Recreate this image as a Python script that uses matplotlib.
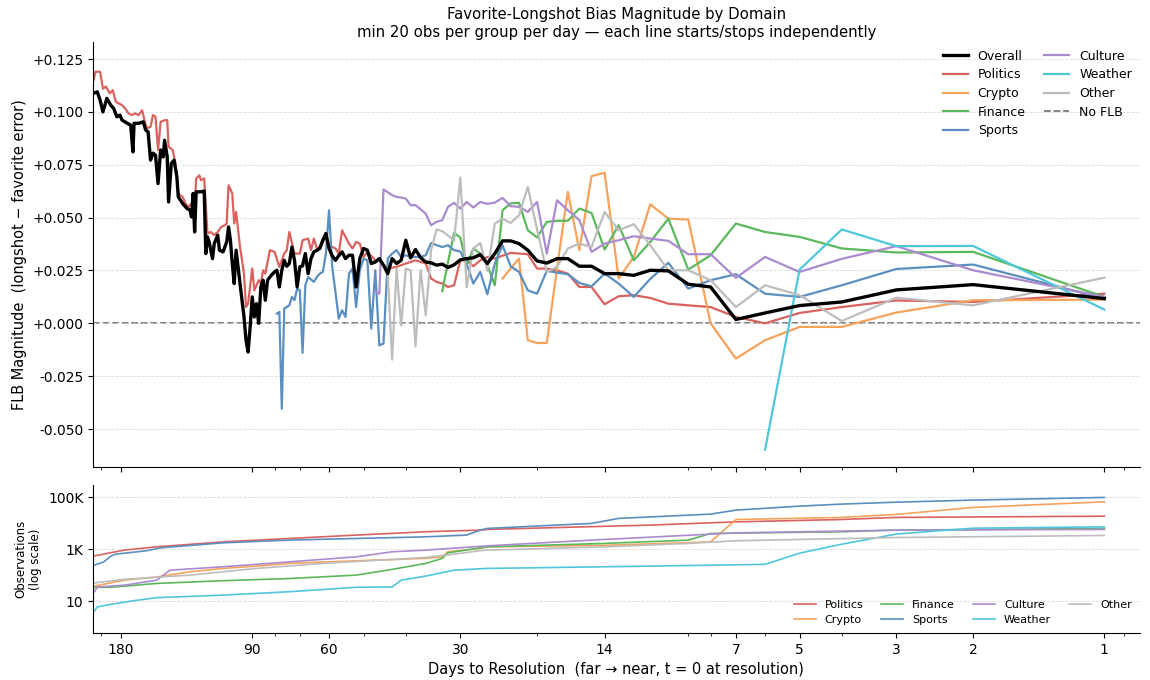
import matplotlib
matplotlib.use("Agg")
import matplotlib.pyplot as plt
from matplotlib.ticker import FixedLocator, FuncFormatter, NullFormatter, NullLocator

# ---- FLB magnitude per domain, by days to resolution ----
overall_days = [207, 204, 201, 198, 194, 190, 187, 184, 181, 179, 174, 171, 169, 168, 164, 160, 158, 156,
                154, 152, 150, 148, 146, 144, 143, 141, 140, 138, 136, 134, 133, 130, 127, 125, 124, 123,
                122, 121, 118, 116, 115, 114, 113, 111, 110, 108, 107, 105, 103, 102, 101, 100, 99, 98,
                97, 96, 94, 93, 92, 91, 90, 89, 88, 87, 86, 85, 84, 83, 82, 81, 80, 79, 78, 77, 76, 75,
                74, 73, 72, 71, 70, 69, 68, 67, 66, 65, 64, 63, 62, 61, 60, 59, 58, 57, 56, 55, 54, 53,
                52, 51, 50, 49, 48, 47, 46, 45, 44, 43, 42, 41, 40, 39, 38, 37, 36, 35, 34, 33, 32, 31,
                30, 29, 28, 27, 26, 25, 24, 23, 22, 21, 20, 19, 18, 17, 16, 15, 14, 13, 12, 11, 10, 9,
                8, 7, 6, 5, 4, 3, 2, 1]
overall_vals = [0.109, 0.1095, 0.1056, 0.100, 0.1064, 0.1032, 0.1016, 0.0977, 0.0985, 0.0961, 0.0946,
                0.0937, 0.0811, 0.0946, 0.0946, 0.0953, 0.0914, 0.0906, 0.0772, 0.0805, 0.0795, 0.0661,
                0.082, 0.0787, 0.0866, 0.0787, 0.0574, 0.0756, 0.0772, 0.0693, 0.0598, 0.0567, 0.0543,
                0.0535, 0.0503, 0.0614, 0.0432, 0.0622, 0.0622, 0.0626, 0.033, 0.0409, 0.0385, 0.0306,
                0.0377, 0.0417, 0.0346, 0.0338, 0.0385, 0.0456, 0.0393, 0.0283, 0.0188, 0.0346, 0.0267,
                0.0188, 0.003, -0.008, -0.0136, -0.0017, 0.0125, 0.003, 0.0093, 0.0, 0.0172, 0.0204,
                0.0109, 0.0204, 0.0219, 0.0232, 0.0243, 0.0251, 0.0172, 0.0251, 0.0298, 0.027, 0.0283,
                0.0361, 0.0298, 0.0172, 0.0267, 0.0272, 0.033, 0.0235, 0.0306, 0.0338, 0.0345, 0.0354,
                0.0393, 0.0425, 0.0354, 0.032, 0.0298, 0.032, 0.0338, 0.0306, 0.0322, 0.0322, 0.0172,
                0.0306, 0.0354, 0.0346, 0.0283, 0.029, 0.0306, 0.0275, 0.0235, 0.0306, 0.0283, 0.0298,
                0.0393, 0.031, 0.0349, 0.0311, 0.029, 0.0286, 0.0275, 0.028, 0.0264, 0.0277, 0.030,
                0.0306, 0.031, 0.0325, 0.0283, 0.033, 0.039, 0.039, 0.0377, 0.0346, 0.0295, 0.0285,
                0.0306, 0.0306, 0.027, 0.027, 0.0235, 0.0235, 0.0227, 0.0251, 0.0248, 0.0185, 0.0172,
                0.0018, 0.0049, 0.0084, 0.0101, 0.0158, 0.0183, 0.0117]

politics_days = [208, 206, 201, 198, 195, 191, 188, 185, 182, 179, 176, 173, 170, 167, 164, 161, 159, 157,
                 154, 152, 150, 148, 146, 143, 141, 140, 137, 135, 133, 130, 128, 126, 124, 122, 121, 119,
                 118, 116, 114, 112, 110, 108, 106, 104, 103, 102, 100, 99, 98, 96, 94, 93, 92, 90, 89,
                 87, 86, 85, 84, 82, 80, 78, 76, 75, 74, 72, 70, 69, 67, 66, 65, 64, 63, 61, 60, 58, 57,
                 56, 54, 53, 52, 51, 50, 49, 47, 46, 45, 44, 42, 40, 38, 36, 35, 34, 33, 32, 31, 30, 29,
                 28, 27, 26, 25, 24, 23, 22, 21, 20, 19, 18, 17, 16, 15, 14, 13, 12, 11, 10, 9, 8, 7, 6,
                 5, 4, 3, 2, 1]
politics_vals = [0.115, 0.119, 0.119, 0.111, 0.112, 0.1088, 0.1103, 0.1048, 0.104, 0.1032, 0.1016, 0.0993,
                 0.0985, 0.0993, 0.0985, 0.1008, 0.0961, 0.0922, 0.093, 0.0985, 0.0977, 0.082, 0.0953,
                 0.0961, 0.0961, 0.0835, 0.082, 0.0756, 0.0614, 0.0598, 0.0567, 0.055, 0.0567, 0.0559,
                 0.0685, 0.070, 0.0677, 0.0685, 0.0425, 0.0432, 0.0417, 0.0432, 0.0456, 0.0464, 0.0472,
                 0.0653, 0.0614, 0.0472, 0.0527, 0.0361, 0.0235, 0.0077, 0.0093, 0.0259, 0.0156, 0.0204,
                 0.0188, 0.0251, 0.0235, 0.0346, 0.0338, 0.0267, 0.033, 0.0346, 0.0432, 0.033, 0.033,
                 0.0393, 0.0401, 0.0346, 0.0401, 0.0354, 0.0361, 0.0409, 0.0369, 0.0354, 0.033, 0.044,
                 0.0377, 0.0354, 0.0385, 0.0377, 0.0314, 0.0338, 0.0298, 0.0302, 0.0275, 0.0259, 0.0267,
                 0.0283, 0.0298, 0.0283, 0.0212, 0.0196, 0.0188, 0.0172, 0.018, 0.0298, 0.0298, 0.027,
                 0.0298, 0.0314, 0.0306, 0.032, 0.0333, 0.033, 0.0327, 0.0259, 0.0259, 0.025, 0.0235,
                 0.0172, 0.0172, 0.009, 0.0128, 0.0133, 0.012, 0.0093, 0.0085, 0.0077, 0.003, 0.0, 0.0049,
                 0.0077, 0.0108, 0.0101, 0.014]

crypto_days = [24, 23, 22, 21, 20, 19, 18, 17, 16, 15, 14, 13, 12, 11, 10, 9, 8, 7, 6, 5, 4, 3, 2, 1]
crypto_vals = [0.0212, 0.0259, 0.0306, -0.008, -0.0093, -0.0093, 0.026, 0.0622, 0.0346, 0.0696, 0.0712,
               0.0212, 0.0314, 0.0563, 0.0495, 0.0491, 0.0, -0.0167, -0.008, -0.0017, -0.0017, 0.0051,
               0.0109, 0.0112]

finance_days = [33, 32, 31, 30, 29, 28, 27, 26, 25, 24, 23, 22, 21, 20, 19, 18, 17, 16, 15, 14, 13, 12,
                11, 10, 9, 8, 7, 6, 5, 4, 3, 2, 1]
finance_vals = [0.0152, 0.029, 0.0428, 0.0406, 0.0275, 0.0354, 0.033, 0.0275, 0.018, 0.0535, 0.0567,
                0.057, 0.044, 0.0406, 0.048, 0.0485, 0.0485, 0.0543, 0.0522, 0.0349, 0.0464, 0.0298,
                0.0385, 0.0495, 0.0254, 0.0322, 0.0472, 0.0432, 0.0409, 0.0354, 0.0335, 0.0338, 0.0125]

sports_days = [79, 78, 77, 76, 74, 73, 72, 71, 70, 69, 68, 67, 65, 64, 63, 62, 61, 60, 59, 58, 57, 56,
               55, 54, 53, 52, 51, 50, 49, 48, 47, 46, 45, 44, 43, 42, 41, 40, 39, 38, 37, 36, 35, 34,
               33, 32, 31, 30, 29, 28, 27, 26, 25, 24, 23, 22, 21, 20, 19, 18, 17, 16, 15, 14, 13, 12,
               11, 10, 9, 8, 7, 6, 5, 4, 3, 2, 1]
sports_vals = [0.0046, 0.0054, -0.0404, 0.007, 0.0085, 0.0125, 0.011, 0.0164, 0.0156, -0.014, 0.018,
               0.0219, 0.0196, 0.0219, 0.0235, 0.0243, 0.033, 0.0535, 0.0267, 0.0148, 0.0022, 0.0062,
               0.003, 0.0235, 0.0259, 0.0077, 0.0251, 0.0306, 0.0298, -0.0025, 0.0251, -0.0104, -0.0096,
               0.0306, 0.033, 0.0346, 0.0314, 0.0322, 0.0314, 0.0314, 0.0314, 0.0322, 0.038, 0.037,
               0.0361, 0.0369, 0.0346, 0.034, 0.028, 0.0188, 0.0243, 0.0137, 0.0283, 0.0369, 0.027,
               0.0243, 0.0156, 0.014, 0.0248, 0.024, 0.0232, 0.0191, 0.0175, 0.0235, 0.0188, 0.0125,
               0.021, 0.0286, 0.0164, 0.0204, 0.0232, 0.014, 0.0125, 0.018, 0.0257, 0.0278, 0.0117]

culture_days = [47, 46, 45, 44, 43, 42, 41, 40, 39, 38, 36, 35, 34, 33, 32, 31, 30, 29, 28, 27, 26, 25,
                24, 23, 22, 21, 20, 19, 18, 17, 16, 15, 14, 13, 12, 11, 10, 9, 8, 7, 6, 5, 4, 3, 2, 1]
culture_vals = [0.0148, 0.014, 0.0633, 0.062, 0.0606, 0.0598, 0.0595, 0.059, 0.0559, 0.0559, 0.0519,
                0.0464, 0.048, 0.0488, 0.0551, 0.057, 0.0543, 0.0574, 0.0548, 0.0574, 0.0565, 0.0571,
                0.0593, 0.0554, 0.0551, 0.0527, 0.0574, 0.033, 0.0582, 0.0535, 0.0488, 0.0338, 0.0377,
                0.0393, 0.0412, 0.0401, 0.039, 0.0327, 0.0327, 0.0215, 0.0314, 0.0243, 0.0305, 0.0365,
                0.0251, 0.0125]

weather_days = [6, 5, 4, 3, 2, 1]
weather_vals = [-0.0598, 0.0254, 0.0444, 0.0365, 0.0366, 0.0065]

other_days = [44, 43, 42, 41, 40, 39, 38, 37, 36, 35, 34, 33, 32, 31, 30, 29, 28, 27, 26, 25, 24, 23,
              22, 21, 20, 19, 18, 17, 16, 15, 14, 13, 12, 11, 10, 9, 8, 7, 6, 5, 4, 3, 2, 1]
other_vals = [0.0235, -0.0172, 0.0259, -0.001, 0.0259, 0.0251, -0.011, 0.0251, 0.0038, 0.0346, 0.0444,
              0.0436, 0.0415, 0.039, 0.069, 0.017, 0.0354, 0.038, 0.0248, 0.0472, 0.0495, 0.0475,
              0.0511, 0.0645, 0.0444, 0.0243, 0.0267, 0.0354, 0.0377, 0.0361, 0.0527, 0.044, 0.0469,
              0.0369, 0.0251, 0.0251, 0.0204, 0.0077, 0.018, 0.0133, 0.0011, 0.0121, 0.0085, 0.0216]

# ---- observation counts (log panel) ----
politics_n_days = [207, 177, 149, 105, 74, 52, 36, 27, 26, 11, 7, 4, 3, 1]
politics_n = [550, 915, 1230, 1900, 2570, 3470, 4660, 5380, 5730, 8400, 11200, 13800, 16600, 18500]
crypto_n_days = [207, 177, 149, 125, 105, 88, 74, 52, 36, 33, 32, 27, 26, 14, 8, 7, 4, 3, 2, 1]
crypto_n = [38, 64, 85, 134, 181, 222, 283, 357, 440, 505, 790, 1070, 1230, 1400, 1900, 13800, 16600,
            21600, 40100, 66000]
finance_n_days = [207, 190, 149, 105, 74, 52, 43, 36, 33, 32, 26, 14, 9, 8, 4, 3, 1]
finance_n = [34, 34, 48, 61, 74, 100, 166, 283, 440, 720, 1230, 1660, 2220, 4000, 4660, 5380, 6250]
sports_n_days = [207, 197, 190, 185, 157, 146, 105, 74, 52, 36, 29, 27, 26, 15, 13, 8, 7, 5, 4, 3, 2, 1]
sports_n = [243, 324, 537, 640, 870, 1120, 1750, 2220, 2570, 2970, 3470, 5380, 6250, 9750, 15200,
            22200, 31600, 45000, 54000, 64000, 77000, 97400]
culture_n_days = [207, 204, 177, 149, 139, 105, 74, 52, 43, 36, 26, 14, 7, 3, 1]
culture_n = [23, 35, 41, 64, 155, 210, 324, 505, 790, 915, 1340, 2360, 4220, 5380, 5730]
weather_n_days = [207, 204, 190, 171, 149, 105, 74, 52, 43, 41, 36, 31, 26, 11, 6, 5, 4, 3, 2, 1]
weather_n = [4.2, 6, 7.5, 10, 13.6, 17, 23, 34, 35, 64, 92, 155, 181, 222, 260, 700, 1550, 3800, 6400, 7200]
other_n_days = [207, 177, 125, 88, 62, 43, 36, 31, 27, 26, 14, 9, 7, 3, 1]
other_n = [50, 69, 100, 181, 283, 400, 480, 640, 870, 915, 1230, 1660, 2100, 2800, 3350]

x_ticks = [180, 90, 60, 30, 14, 7, 5, 3, 2, 1]

colors = {
    "Politics": "#d9625f",
    "Crypto": "#f5a35c",
    "Finance": "#5cb85c",
    "Sports": "#5b8fbf",
    "Culture": "#ab8bcf",
    "Weather": "#4fc7da",
    "Other": "#bdbdbd",
}

domains = [
    ("Politics", politics_days, politics_vals, politics_n_days, politics_n),
    ("Crypto", crypto_days, crypto_vals, crypto_n_days, crypto_n),
    ("Finance", finance_days, finance_vals, finance_n_days, finance_n),
    ("Sports", sports_days, sports_vals, sports_n_days, sports_n),
    ("Culture", culture_days, culture_vals, culture_n_days, culture_n),
    ("Weather", weather_days, weather_vals, weather_n_days, weather_n),
    ("Other", other_days, other_vals, other_n_days, other_n),
]

fig, (ax, axn) = plt.subplots(2, 1, figsize=(11.5, 6.8), dpi=100, sharex=True,
                              gridspec_kw=dict(height_ratios=[425, 148]))
fig.subplots_adjust(left=0.081, right=0.991, top=0.938, bottom=0.069, hspace=0.063)

ax.plot(overall_days, overall_vals, color="black", lw=2.4, label="Overall", zorder=5)
for name, d, v, _, _ in domains:
    ax.plot(d, v, color=colors[name], lw=1.6, label=name)
ax.axhline(0, color="#777777", ls="--", lw=1.3, label="No FLB", zorder=1)

ax.set_xscale("log")
ax.set_xlim(208.5, 0.83)
ax.set_ylim(-0.068, 0.133)
ax.set_yticks([-0.05, -0.025, 0, 0.025, 0.05, 0.075, 0.1, 0.125])
ax.yaxis.set_major_formatter(FuncFormatter(lambda v, _: f"{v:+.3f}"))
ax.set_ylabel("FLB Magnitude  (longshot \u2212 favorite error)", fontsize=10.5)
ax.set_title("Favorite-Longshot Bias Magnitude by Domain\n"
             "min 20 obs per group per day \u2014 each line starts/stops independently",
             fontsize=10.7, pad=4)
ax.grid(axis="y", ls="--", lw=0.6, color="#dddddd")
ax.legend(loc="upper right", ncol=2, frameon=False, fontsize=9, handlelength=2.0,
          columnspacing=1.5, labelspacing=0.45, borderaxespad=0.2)

for name, _, _, nd, n in domains:
    axn.plot(nd, n, color=colors[name], lw=1.2, label=name)
axn.set_yscale("log")
axn.set_ylim(0.59, 2.9e5)
axn.yaxis.set_major_locator(FixedLocator([10, 1000, 100000]))
axn.yaxis.set_major_formatter(FuncFormatter(lambda v, _: {10: "10", 1000: "1K", 100000: "100K"}.get(int(round(v)), "")))
axn.yaxis.set_minor_locator(NullLocator())
axn.set_ylabel("Observations\n(log scale)", fontsize=8.5)
axn.grid(axis="y", ls="--", lw=0.6, color="#dddddd")
axn.legend(loc="lower right", ncol=4, frameon=False, fontsize=8, handlelength=2.0,
           columnspacing=1.6, labelspacing=0.5, borderaxespad=0.3)

axn.xaxis.set_major_locator(FixedLocator(x_ticks))
axn.xaxis.set_major_formatter(FuncFormatter(lambda v, _: f"{int(round(v))}"))
axn.xaxis.set_minor_formatter(NullFormatter())
axn.set_xlabel("Days to Resolution  (far \u2192 near, t = 0 at resolution)", fontsize=10.5)

for a in (ax, axn):
    a.spines["top"].set_visible(False)
    a.spines["right"].set_visible(False)
    a.tick_params(labelsize=10)

fig.savefig("out.png", dpi=100)
